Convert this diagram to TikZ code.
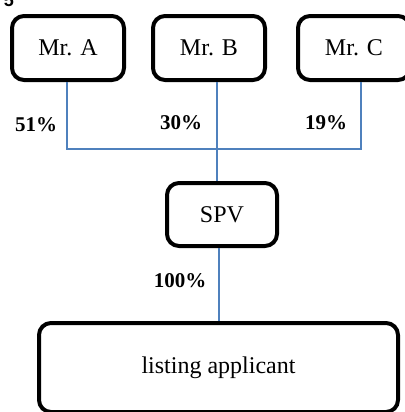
\documentclass[tikz,border=0pt]{standalone}
\usepackage{fontspec}
\setmainfont{Liberation Serif}
\newfontfamily\headfont{Liberation Sans}
\definecolor{linkblue}{RGB}{79,129,189}
\begin{document}
\begin{tikzpicture}[x=0.5pt,y=-0.5pt,
    holder/.style={draw,line width=2pt,rounded corners=6pt,minimum width=56pt,
      minimum height=32pt,inner sep=0pt,font=\fontsize{12}{14}\selectfont},
    share/.style={font=\fontsize{10.5}{12}\selectfont\bfseries},
    link/.style={draw=linkblue,line width=0.8pt}]
  \useasboundingbox (0,0) rectangle (405,412);
  \begin{scope}
    \clip (0,0) rectangle (405,412);
    \node[anchor=base,font=\headfont\bfseries\fontsize{9}{10}\selectfont] (fig) at (9,6) {5};
    \draw
      (68,48) node[holder] (A){Mr. A}
      (209,48) node[holder] (B){Mr. B}
      (354,48) node[holder] (C){Mr. C}
      (222,214.5) node[holder,minimum width=55pt,minimum height=31.5pt] (spv){SPV}
      (218.5,367.5) node[holder,minimum width=179.5pt,minimum height=44.5pt] (list){listing applicant};
  \end{scope}
  \draw
    (36,125) node[share] (pa){51\%}
    (181,123) node[share] (pb){30\%}
    (326,123) node[share] (pc){19\%}
    (180,281) node[share] (ps){100\%};
  \coordinate (join) at (217,149);
  \begin{scope}[link]
    \draw ([xshift=-0.5pt]A.south) |- (join);
    \draw ([xshift=3.5pt]C.south) |- (join);
    \draw ([xshift=4pt]B.south) -- (join);
    \draw (join) -- (join |- spv.north);
    \draw ([xshift=-1.5pt]spv.south) -- ([xshift=-1.5pt]spv.south |- list.north);
  \end{scope}
\end{tikzpicture}
\end{document}
